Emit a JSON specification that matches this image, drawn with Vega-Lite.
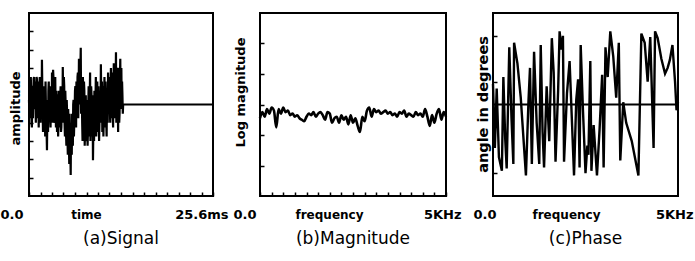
{
  "$schema": "https://vega.github.io/schema/vega-lite/v6.json",
  "padding": {"left": -2, "top": 12, "right": 0, "bottom": 0},
  "background": "white",
  "datasets": {
    "signal": [
      {"t":0.0,"a":0.05},{"t":0.05,"a":-0.15},{"t":0.1,"a":0.25},{"t":0.15,"a":0.1},{"t":0.2,"a":-0.1},{"t":0.25,"a":0.3},{"t":0.3,"a":0.15},{"t":0.35,"a":-0.2},{"t":0.4,"a":-0.25},{"t":0.45,"a":0.05},
      {"t":0.5,"a":0.2},{"t":0.55,"a":-0.15},{"t":0.6,"a":0.05},{"t":0.65,"a":0.28},{"t":0.7,"a":0.3},{"t":0.75,"a":0.0},{"t":0.8,"a":-0.05},{"t":0.85,"a":0.25},{"t":0.9,"a":0.2},{"t":0.95,"a":-0.2},
      {"t":1.0,"a":0.1},{"t":1.05,"a":0.3},{"t":1.1,"a":0.28},{"t":1.15,"a":-0.1},{"t":1.2,"a":-0.15},{"t":1.25,"a":0.1},{"t":1.3,"a":0.25},{"t":1.35,"a":-0.25},{"t":1.4,"a":0.05},{"t":1.45,"a":0.22},
      {"t":1.5,"a":0.3},{"t":1.55,"a":0.0},{"t":1.6,"a":-0.2},{"t":1.65,"a":0.1},{"t":1.7,"a":0.15},{"t":1.75,"a":-0.1},{"t":1.8,"a":0.49},{"t":1.85,"a":0.2},{"t":1.9,"a":-0.1},{"t":1.95,"a":-0.3},
      {"t":2.0,"a":0.2},{"t":2.05,"a":0.1},{"t":2.1,"a":-0.3},{"t":2.15,"a":-0.05},{"t":2.2,"a":0.1},{"t":2.25,"a":-0.35},{"t":2.3,"a":0.25},{"t":2.35,"a":0.0},{"t":2.4,"a":-0.2},{"t":2.45,"a":-0.3},
      {"t":2.5,"a":-0.5},{"t":2.55,"a":-0.1},{"t":2.6,"a":0.05},{"t":2.65,"a":-0.3},{"t":2.7,"a":0.15},{"t":2.75,"a":0.25},{"t":2.8,"a":-0.1},{"t":2.85,"a":0.1},{"t":2.9,"a":0.2},{"t":2.95,"a":-0.15},
      {"t":3.0,"a":-0.25},{"t":3.05,"a":0.2},{"t":3.1,"a":0.1},{"t":3.15,"a":-0.2},{"t":3.2,"a":0.35},{"t":3.25,"a":0.1},{"t":3.3,"a":0.0},{"t":3.35,"a":0.38},{"t":3.4,"a":0.3},{"t":3.45,"a":-0.2},
      {"t":3.5,"a":-0.15},{"t":3.55,"a":0.05},{"t":3.6,"a":0.25},{"t":3.65,"a":0.3},{"t":3.7,"a":-0.05},{"t":3.75,"a":-0.25},{"t":3.8,"a":0.15},{"t":3.85,"a":0.0},{"t":3.9,"a":-0.3},{"t":3.95,"a":0.1},
      {"t":4.0,"a":0.1},{"t":4.05,"a":-0.35},{"t":4.1,"a":-0.2},{"t":4.15,"a":0.15},{"t":4.2,"a":0.05},{"t":4.25,"a":-0.25},{"t":4.3,"a":-0.1},{"t":4.35,"a":0.1},{"t":4.4,"a":0.2},{"t":4.45,"a":-0.3},
      {"t":4.5,"a":-0.25},{"t":4.55,"a":0.0},{"t":4.6,"a":0.1},{"t":4.65,"a":-0.2},{"t":4.7,"a":0.41},{"t":4.75,"a":0.1},{"t":4.8,"a":-0.05},{"t":4.85,"a":0.3},{"t":4.9,"a":0.2},{"t":4.95,"a":-0.2},
      {"t":5.0,"a":-0.35},{"t":5.05,"a":0.15},{"t":5.1,"a":0.0},{"t":5.15,"a":-0.3},{"t":5.2,"a":-0.45},{"t":5.25,"a":0.05},{"t":5.3,"a":-0.1},{"t":5.35,"a":-0.35},{"t":5.4,"a":-0.55},{"t":5.45,"a":-0.05},
      {"t":5.5,"a":-0.2},{"t":5.55,"a":-0.4},{"t":5.6,"a":-0.65},{"t":5.65,"a":-0.1},{"t":5.7,"a":-0.3},{"t":5.75,"a":-0.5},{"t":5.8,"a":-0.77},{"t":5.85,"a":-0.2},{"t":5.9,"a":-0.35},{"t":5.95,"a":-0.55},
      {"t":6.0,"a":-0.1},{"t":6.05,"a":-0.25},{"t":6.1,"a":-0.45},{"t":6.15,"a":0.0},{"t":6.2,"a":0.05},{"t":6.25,"a":-0.35},{"t":6.3,"a":-0.2},{"t":6.35,"a":-0.05},{"t":6.4,"a":0.15},{"t":6.45,"a":0.2},
      {"t":6.5,"a":-0.1},{"t":6.55,"a":-0.25},{"t":6.6,"a":0.25},{"t":6.65,"a":0.1},{"t":6.7,"a":-0.05},{"t":6.75,"a":0.3},{"t":6.8,"a":0.35},{"t":6.85,"a":-0.15},{"t":6.9,"a":0.1},{"t":6.95,"a":0.5},
      {"t":7.0,"a":0.45},{"t":7.05,"a":0.2},{"t":7.1,"a":0.0},{"t":7.15,"a":0.4},{"t":7.2,"a":0.62},{"t":7.25,"a":-0.1},{"t":7.3,"a":0.2},{"t":7.35,"a":0.1},{"t":7.4,"a":-0.2},{"t":7.45,"a":-0.4},
      {"t":7.5,"a":0.3},{"t":7.55,"a":0.05},{"t":7.6,"a":-0.35},{"t":7.65,"a":0.25},{"t":7.7,"a":0.15},{"t":7.75,"a":-0.45},{"t":7.8,"a":-0.25},{"t":7.85,"a":0.05},{"t":7.9,"a":0.1},{"t":7.95,"a":-0.3},
      {"t":8.0,"a":-0.4},{"t":8.05,"a":-0.1},{"t":8.1,"a":0.05},{"t":8.15,"a":-0.45},{"t":8.2,"a":-0.3},{"t":8.25,"a":0.0},{"t":8.3,"a":0.2},{"t":8.35,"a":-0.35},{"t":8.4,"a":-0.15},{"t":8.45,"a":0.1},
      {"t":8.5,"a":0.35},{"t":8.55,"a":-0.4},{"t":8.6,"a":-0.2},{"t":8.65,"a":0.2},{"t":8.7,"a":0.1},{"t":8.75,"a":-0.1},{"t":8.8,"a":-0.35},{"t":8.85,"a":0.1},{"t":8.9,"a":-0.61},{"t":8.95,"a":-0.3},
      {"t":9.0,"a":-0.1},{"t":9.05,"a":-0.4},{"t":9.1,"a":0.15},{"t":9.15,"a":-0.1},{"t":9.2,"a":-0.25},{"t":9.25,"a":0.05},{"t":9.3,"a":0.3},{"t":9.35,"a":-0.35},{"t":9.4,"a":-0.1},{"t":9.45,"a":0.1},
      {"t":9.5,"a":0.25},{"t":9.55,"a":-0.1},{"t":9.6,"a":-0.3},{"t":9.65,"a":0.2},{"t":9.7,"a":0.05},{"t":9.75,"a":-0.4},{"t":9.8,"a":-0.2},{"t":9.85,"a":0.0},{"t":9.9,"a":0.15},{"t":9.95,"a":-0.2},
      {"t":10.0,"a":0.44},{"t":10.05,"a":0.1},{"t":10.1,"a":-0.05},{"t":10.15,"a":0.25},{"t":10.2,"a":-0.3},{"t":10.25,"a":0.0},{"t":10.3,"a":0.2},{"t":10.35,"a":-0.35},{"t":10.4,"a":-0.15},{"t":10.45,"a":0.1},
      {"t":10.5,"a":0.3},{"t":10.55,"a":-0.1},{"t":10.6,"a":-0.25},{"t":10.65,"a":0.25},{"t":10.7,"a":0.1},{"t":10.75,"a":-0.2},{"t":10.8,"a":-0.35},{"t":10.85,"a":0.15},{"t":10.9,"a":0.05},{"t":10.95,"a":-0.2},
      {"t":11.0,"a":0.35},{"t":11.05,"a":0.0},{"t":11.1,"a":-0.1},{"t":11.15,"a":0.3},{"t":11.2,"a":0.25},{"t":11.25,"a":-0.05},{"t":11.3,"a":-0.2},{"t":11.35,"a":0.2},{"t":11.4,"a":0.4},{"t":11.45,"a":-0.15},
      {"t":11.5,"a":0.0},{"t":11.55,"a":0.35},{"t":11.6,"a":0.3},{"t":11.65,"a":-0.1},{"t":11.7,"a":-0.25},{"t":11.75,"a":0.2},{"t":11.8,"a":0.45},{"t":11.85,"a":-0.1},{"t":11.9,"a":0.1},{"t":11.95,"a":0.3},
      {"t":12.0,"a":-0.15},{"t":12.05,"a":0.2},{"t":12.1,"a":0.57},{"t":12.15,"a":-0.2},{"t":12.2,"a":0.05},{"t":12.25,"a":0.4},{"t":12.3,"a":0.35},{"t":12.35,"a":0.0},{"t":12.4,"a":-0.3},{"t":12.45,"a":0.25},
      {"t":12.5,"a":0.4},{"t":12.55,"a":-0.2},{"t":12.6,"a":-0.1},{"t":12.65,"a":0.3},{"t":12.7,"a":0.5},{"t":12.75,"a":0.0},{"t":12.8,"a":0.15},{"t":12.85,"a":0.4},{"t":12.9,"a":-0.05},{"t":12.95,"a":0.25},
      {"t":13.0,"a":0.1},{"t":13.05,"a":-0.1},{"t":13.1,"a":0.0},{"t":25.6,"a":0.0}
    ],
    "magnitude": [
      {"f":0.0,"m":2.55},{"f":0.0625,"m":2.75},{"f":0.125,"m":2.6},{"f":0.1875,"m":2.85},{"f":0.25,"m":2.7},{"f":0.3125,"m":2.9},{"f":0.375,"m":2.8},{"f":0.4375,"m":2.25},{"f":0.5,"m":2.85},{"f":0.5625,"m":2.7},
      {"f":0.625,"m":2.9},{"f":0.6875,"m":2.75},{"f":0.75,"m":2.8},{"f":0.8125,"m":2.65},{"f":0.875,"m":2.7},{"f":0.9375,"m":2.6},{"f":1.0,"m":2.65},{"f":1.0625,"m":2.55},{"f":1.125,"m":2.5},{"f":1.1875,"m":2.45},
      {"f":1.25,"m":2.6},{"f":1.3125,"m":2.7},{"f":1.375,"m":2.65},{"f":1.4375,"m":2.75},{"f":1.5,"m":2.6},{"f":1.5625,"m":2.7},{"f":1.625,"m":2.75},{"f":1.6875,"m":2.65},{"f":1.75,"m":2.5},{"f":1.8125,"m":2.75},
      {"f":1.875,"m":2.7},{"f":1.9375,"m":2.4},{"f":2.0,"m":2.55},{"f":2.0625,"m":2.6},{"f":2.125,"m":2.4},{"f":2.1875,"m":2.65},{"f":2.25,"m":2.5},{"f":2.3125,"m":2.6},{"f":2.375,"m":2.35},{"f":2.4375,"m":2.65},
      {"f":2.5,"m":2.4},{"f":2.5625,"m":2.55},{"f":2.625,"m":2.3},{"f":2.6875,"m":2.1},{"f":2.75,"m":2.6},{"f":2.8125,"m":2.45},{"f":2.875,"m":2.8},{"f":2.9375,"m":2.9},{"f":3.0,"m":2.6},{"f":3.0625,"m":2.85},
      {"f":3.125,"m":2.75},{"f":3.1875,"m":2.8},{"f":3.25,"m":2.7},{"f":3.3125,"m":2.75},{"f":3.375,"m":2.8},{"f":3.4375,"m":2.7},{"f":3.5,"m":2.75},{"f":3.5625,"m":2.65},{"f":3.625,"m":2.7},{"f":3.6875,"m":2.6},
      {"f":3.75,"m":2.75},{"f":3.8125,"m":2.7},{"f":3.875,"m":2.8},{"f":3.9375,"m":2.6},{"f":4.0,"m":2.7},{"f":4.0625,"m":2.65},{"f":4.125,"m":2.6},{"f":4.1875,"m":2.75},{"f":4.25,"m":2.65},{"f":4.3125,"m":2.7},
      {"f":4.375,"m":2.6},{"f":4.4375,"m":2.85},{"f":4.5,"m":2.6},{"f":4.5625,"m":2.3},{"f":4.625,"m":2.65},{"f":4.6875,"m":2.4},{"f":4.75,"m":2.7},{"f":4.8125,"m":2.85},{"f":4.875,"m":2.5},{"f":4.9375,"m":2.75},
      {"f":5.0,"m":2.6}
    ],
    "phase": [
      {"f":0.00,"p":0.9},{"f":0.05,"p":-1.9},{"f":0.10,"p":0.7},{"f":0.16,"p":-2.3},{"f":0.24,"p":-2.9},{"f":0.28,"p":1.2},{"f":0.33,"p":-1.5},{"f":0.37,"p":-2.8},{"f":0.44,"p":2.5},{"f":0.50,"p":-0.6},
      {"f":0.55,"p":-2.6},{"f":0.57,"p":2.7},{"f":0.66,"p":1.8},{"f":0.75,"p":0.3},{"f":0.89,"p":-3.1},{"f":0.96,"p":0.2},{"f":1.00,"p":1.6},{"f":1.05,"p":-2.6},{"f":1.11,"p":2.3},{"f":1.18,"p":-0.8},
      {"f":1.25,"p":-2.6},{"f":1.29,"p":2.6},{"f":1.34,"p":-1.2},{"f":1.38,"p":-2.75},{"f":1.45,"p":0.8},{"f":1.52,"p":-1.6},{"f":1.59,"p":2.9},{"f":1.64,"p":1.4},{"f":1.69,"p":-2.5},{"f":1.76,"p":0.6},
      {"f":1.80,"p":3.2},{"f":1.85,"p":2.4},{"f":1.89,"p":3.0},{"f":1.92,"p":-2.5},{"f":2.00,"p":0.5},{"f":2.07,"p":1.9},{"f":2.19,"p":-3.1},{"f":2.25,"p":0.2},{"f":2.30,"p":1.1},{"f":2.34,"p":-2.75},
      {"f":2.37,"p":2.6},{"f":2.43,"p":-0.2},{"f":2.50,"p":-3.0},{"f":2.55,"p":-1.8},{"f":2.58,"p":-2.2},{"f":2.63,"p":1.9},{"f":2.66,"p":-2.9},{"f":2.72,"p":-0.9},{"f":2.81,"p":-3.1},{"f":2.88,"p":-1.1},
      {"f":2.95,"p":1.3},{"f":2.99,"p":-2.75},{"f":3.04,"p":2.5},{"f":3.10,"p":1.2},{"f":3.17,"p":3.2},{"f":3.25,"p":2.1},{"f":3.33,"p":0.3},{"f":3.40,"p":2.7},{"f":3.44,"p":-2.45},{"f":3.52,"p":0.1},
      {"f":3.60,"p":-0.8},{"f":3.75,"p":-1.6},{"f":3.93,"p":-3.1},{"f":4.01,"p":3.1},{"f":4.10,"p":2.7},{"f":4.18,"p":1.0},{"f":4.25,"p":2.95},{"f":4.34,"p":-1.9},{"f":4.38,"p":3.2},{"f":4.45,"p":2.9},
      {"f":4.55,"p":2.0},{"f":4.65,"p":1.35},{"f":4.72,"p":1.6},{"f":4.78,"p":1.95},{"f":4.85,"p":2.6},{"f":4.92,"p":1.0},{"f":4.96,"p":-0.25},{"f":5.00,"p":0.1}
    ],
    "zero": [{"v": 0}]
  },
  "spacing": 47,
  "bounds": "flush",
  "hconcat": [
    {
      "width": 184, "height": 183,
      "title": {"text": "(a)Signal", "orient": "bottom", "offset": 10, "dx": 0},
      "data": {"name": "signal"},
      "mark": {"type": "line", "color": "black", "strokeWidth": 2.2},
      "encoding": {
        "x": {"field": "t", "type": "quantitative",
          "scale": {"domain": [0, 25.6], "nice": false, "zero": false},
          "axis": {"title": "time", "values": [0,1.6,3.2,4.8,6.4,8,9.6,11.2,12.8,14.4,16,17.6,19.2,20.8,22.4,24,25.6],
            "labelExpr": "datum.value == 0 ? '0.0' : (datum.value == 25.6 ? '25.6ms' : '')",
            "labelOffset": {"condition": {"test": "datum.value == 0", "value": -6}, "value": 15},
            "titleX": 57}},
        "y": {"field": "a", "type": "quantitative",
          "scale": {"domain": [-1, 1], "nice": false},
          "axis": {"title": "amplitude", "values": [-0.8,-0.6,-0.4,-0.2,0,0.2,0.4,0.6,0.8], "titleX": -14, "titleY": 95}}
      }
    },
    {
      "width": 186, "height": 183,
      "title": {"text": "(b)Magnitude", "orient": "bottom", "offset": 10, "dx": 0},
      "data": {"name": "magnitude"},
      "mark": {"type": "line", "color": "black", "strokeWidth": 2.6, "interpolate": "monotone"},
      "encoding": {
        "x": {"field": "f", "type": "quantitative",
          "scale": {"domain": [0, 5], "nice": false, "zero": false},
          "axis": {"title": "frequency", "values": [0,0.3125,0.625,0.9375,1.25,1.5625,1.875,2.1875,2.5,2.8125,3.125,3.4375,3.75,4.0625,4.375,4.6875,5],
            "labelExpr": "datum.value == 0 ? '0.0' : (datum.value == 5 ? '5KHz' : '')",
            "labelOffset": {"condition": {"test": "datum.value == 0", "value": -4}, "value": 15},
            "titleX": 69}},
        "y": {"field": "m", "type": "quantitative",
          "scale": {"domain": [0, 6], "nice": false},
          "axis": {"title": "Log magnitude", "values": [1,2,3,4,5], "titleX": -20, "titleY": 79}}
      }
    },
    {
      "width": 185, "height": 183,
      "title": {"text": "(c)Phase", "orient": "bottom", "offset": 10, "dx": 0},
      "layer": [
        {
          "data": {"name": "zero"},
          "mark": {"type": "rule", "color": "black", "strokeWidth": 2},
          "encoding": {"y": {"field": "v", "type": "quantitative"}}
        },
        {
          "data": {"name": "phase"},
          "mark": {"type": "line", "color": "black", "strokeWidth": 2.4},
          "encoding": {
            "x": {"field": "f", "type": "quantitative",
              "scale": {"domain": [0, 5], "nice": false, "zero": false},
              "axis": {"title": "frequency", "values": [0, 5], "tickOpacity": 0,
                "labelExpr": "datum.value == 0 ? '0.0' : '5KHz'",
                "labelOffset": {"condition": {"test": "datum.value == 0", "value": 3}, "value": 15},
                "titleX": 73}},
            "y": {"field": "p", "type": "quantitative",
              "scale": {"domain": [-4, 4], "nice": false},
              "axis": {"title": "angle in degrees", "values": [-3,-2,-1,0,1,2,3], "titleX": -10, "titleY": 91, "titleFontSize": 14.5}}
          }
        }
      ]
    }
  ],
  "config": {
    "view": {"stroke": "black", "strokeWidth": 2},
    "axis": {
      "domain": false, "grid": false,
      "tickSize": -4, "tickWidth": 1.5, "tickColor": "black",
      "labelFont": "DejaVu Sans", "labelFontWeight": "bold", "labelFontSize": 13, "labelColor": "black",
      "titleFont": "DejaVu Sans", "titleFontWeight": "bold", "titleFontSize": 12, "titleColor": "black"
    },
    "axisX": {
      "labelAlign": "right", "labelBaseline": "alphabetic", "labelPadding": 26,
      "labelFlush": false, "labelOverlap": false, "labelBound": false,
      "titleY": 22, "titleBaseline": "alphabetic", "titleAlign": "center"
    },
    "axisY": {
      "labels": false, "titleAngle": -90, "titleBaseline": "middle", "titleAlign": "center", "titleFontSize": 13
    },
    "title": {"font": "DejaVu Sans", "fontSize": 17, "fontWeight": "normal", "color": "black", "anchor": "middle", "baseline": "top"}
  }
}
